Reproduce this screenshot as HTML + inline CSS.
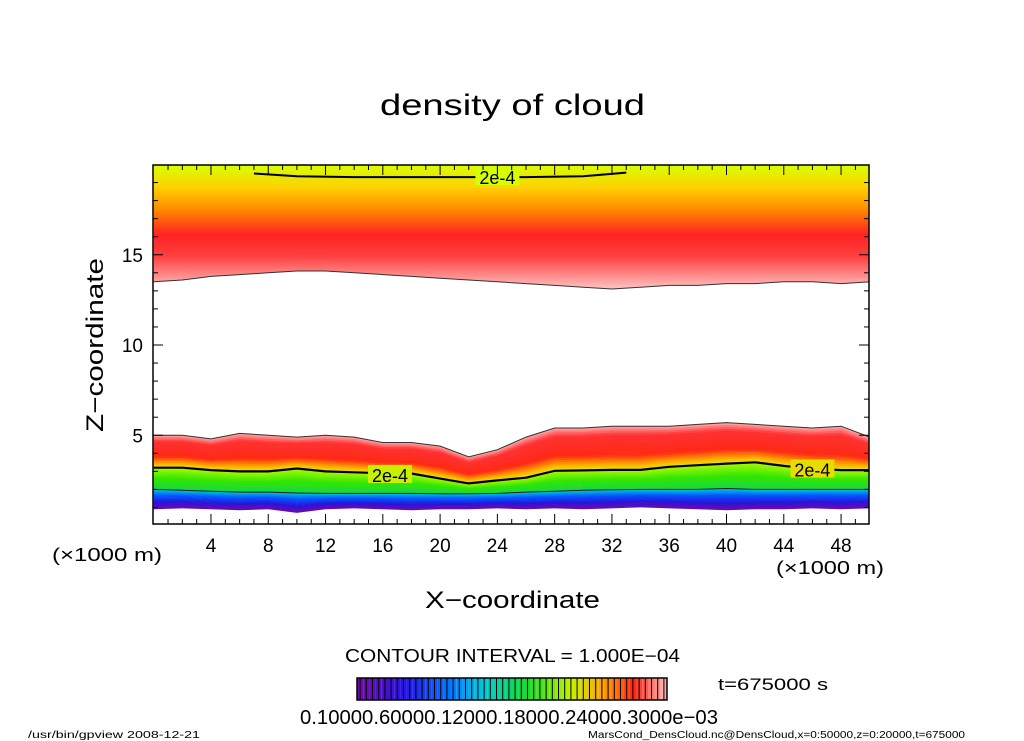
<!DOCTYPE html>
<html><head><meta charset="utf-8"><style>
html,body{margin:0;padding:0;background:#fff;}
svg{display:block;font-family:"Liberation Sans",sans-serif;}
</style></head><body>
<svg id="chart" width="1024" height="741" viewBox="0 0 1024 741">
<defs>
<linearGradient id="upperGrad" x1="0" y1="165" x2="0" y2="292" gradientUnits="userSpaceOnUse">
<stop offset="0" stop-color="#d8ff00"/>
<stop offset="0.18" stop-color="#ffd000"/>
<stop offset="0.35" stop-color="#ff8a00"/>
<stop offset="0.55" stop-color="#ff2222"/>
<stop offset="0.72" stop-color="#ff4040"/>
<stop offset="0.88" stop-color="#ff9090"/>
<stop offset="1" stop-color="#ffd0d0"/>
</linearGradient>
<clipPath id="plotClip"><rect x="153" y="165" width="716" height="359"/></clipPath>
</defs>
<text x="380" y="115" font-size="30" textLength="265" lengthAdjust="spacingAndGlyphs">density of cloud</text>
<g id="plot" clip-path="url(#plotClip)"></g>
<rect x="153" y="165" width="716" height="359" fill="none" stroke="#000" stroke-width="1.5"/>
<g id="axes"></g>
<text x="103" y="432" font-size="24" textLength="174" lengthAdjust="spacingAndGlyphs" transform="rotate(-90 103 432)">Z−coordinate</text>
<text x="425" y="608" font-size="24" textLength="175" lengthAdjust="spacingAndGlyphs">X−coordinate</text>
<text x="52" y="561" font-size="18" textLength="110" lengthAdjust="spacingAndGlyphs">(×1000 m)</text>
<text x="776" y="574" font-size="18" textLength="108" lengthAdjust="spacingAndGlyphs">(×1000 m)</text>
<text x="345" y="662" font-size="18" textLength="335" lengthAdjust="spacingAndGlyphs">CONTOUR INTERVAL = 1.000E−04</text>
<g id="colorbar"></g>
<rect x="357" y="678" width="310" height="22" fill="none" stroke="#000" stroke-width="1.5"/>
<text x="300" y="724" font-size="20" textLength="418" lengthAdjust="spacingAndGlyphs">0.10000.60000.12000.18000.24000.3000e−03</text>
<text x="718" y="690" font-size="17" textLength="110" lengthAdjust="spacingAndGlyphs">t=675000 s</text>
<text x="28" y="738" font-size="10" textLength="172" lengthAdjust="spacingAndGlyphs">/usr/bin/gpview   2008-12-21</text>
<text x="588" y="738" font-size="10" textLength="377" lengthAdjust="spacingAndGlyphs">MarsCond_DensCloud.nc@DensCloud,x=0:50000,z=0:20000,t=675000</text>
</svg>
<script>
const xs = [0,2,4,6,8,10,12,14,16,18,20,22,24,26,28,30,32,34,36,38,40,42,44,46,48,50];
const cloudTop = [5.0,5.0,4.8,5.1,5.0,4.9,5.0,4.9,4.6,4.6,4.4,3.8,4.2,4.9,5.4,5.4,5.5,5.5,5.5,5.6,5.7,5.6,5.5,5.4,5.5,4.9];
const contour2e4 = [3.2,3.2,3.07,3.0,3.0,3.16,3.0,2.95,2.9,2.88,2.6,2.33,2.5,2.65,3.03,3.05,3.08,3.08,3.25,3.34,3.43,3.5,3.3,3.15,3.07,3.07];
const contour1e4 = [2.0,1.95,1.9,1.85,1.85,1.8,1.78,1.78,1.78,1.78,1.76,1.76,1.78,1.85,1.9,1.95,1.98,2.0,2.0,2.0,2.05,2.0,2.0,2.0,2.0,2.0];
const cloudBottom = [0.9,0.95,0.9,0.85,0.9,0.7,0.9,0.95,0.9,0.85,0.9,0.9,0.95,0.9,0.95,0.9,0.95,1.0,0.95,0.9,0.85,0.9,0.9,0.95,0.9,0.95];
const upperBase = [13.5,13.6,13.8,13.9,14.0,14.1,14.1,14.0,13.9,13.8,13.7,13.6,13.5,13.4,13.3,13.2,13.1,13.2,13.3,13.3,13.4,13.4,13.5,13.5,13.4,13.5];
const upper2e4X = [7,10,14,18,22,26,30,33];
const upper2e4Z = [19.5,19.35,19.3,19.3,19.3,19.3,19.35,19.55];
const xTicks = [4,8,12,16,20,24,28,32,36,40,44,48];
const zTicks = [5,10,15];
const cbColors = 50;

const NS='http://www.w3.org/2000/svg';
const X = x => 153.7 + 14.32*x;
const Z = z => 525.5 - 18.05*z;
function mk(tag, attrs, parent){const e=document.createElementNS(NS,tag);for(const k in attrs)e.setAttribute(k,attrs[k]);parent.appendChild(e);return e;}
function lerpC(stops,f){f=Math.max(0,Math.min(1,f));for(let i=1;i<stops.length;i++){if(f<=stops[i][0]){const a=stops[i-1],b=stops[i];const t=(f-a[0])/(b[0]-a[0]||1);const c=[0,1,2].map(j=>Math.round(a[1][j]+(b[1][j]-a[1][j])*t));return `rgb(${c})`;}}const l=stops[stops.length-1][1];return `rgb(${l})`;}
const bottomStops=[[0,[110,10,170]],[0.35,[40,20,220]],[0.7,[0,90,255]],[1,[0,200,220]]];
const midStops=[[0,[20,215,70]],[0.5,[50,230,0]],[1,[170,250,0]]];
const highStops=[[0,[235,235,0]],[0.15,[255,160,0]],[0.35,[255,40,20]],[0.8,[255,50,50]],[1,[255,170,170]]];
const plot=document.getElementById('plot');
const pl=(arr)=>xs.map((x,i)=>`${X(x).toFixed(1)},${Z(arr[i]).toFixed(1)}`);

const up=mk('polygon',{points:`${X(0)},${Z(20.5)} ${X(50)},${Z(20.5)} `+pl(upperBase).reverse().join(' '),fill:'url(#upperGrad)'},plot);


const upl=mk('polyline',{points:pl(upperBase).join(' '),fill:'none',stroke:'#333','stroke-width':1},plot);



const N=20;
function band(lo,hi,stops,name){
  for(let k=0;k<N;k++){
    const f0=k/N,f1=(k+1)/N;
    const a=xs.map((x,i)=>`${X(x).toFixed(1)},${Z(lo[i]+(hi[i]-lo[i])*f0).toFixed(1)}`);
    const b=xs.map((x,i)=>`${X(x).toFixed(1)},${Z(lo[i]+(hi[i]-lo[i])*f1+0.02).toFixed(1)}`).reverse();
    const p=mk('polygon',{points:a.concat(b).join(' '),fill:lerpC(stops,(f0+f1)/2)},plot);
    
    
  }
}
band(cloudBottom,contour1e4,bottomStops,'lower-cloud-band');
band(contour1e4,contour2e4,midStops,'middle-cloud-band');
band(contour2e4,cloudTop,highStops,'upper-part-band');
const lines=[[cloudTop,1,'#333','cloud-top-edge'],[contour2e4,2.2,'#000','contour-2e-4'],[contour1e4,1,'#222','contour-1e-4']];
lines.forEach(([arr,w,c,n])=>{const l=mk('polyline',{points:pl(arr).join(' '),fill:'none',stroke:c,'stroke-width':w},plot);

});
const u2=mk('polyline',{points:upper2e4X.map((x,i)=>`${X(x)},${Z(upper2e4Z[i])}`).join(' '),fill:'none',stroke:'#000','stroke-width':2},plot);


[[24,19.3,[214,255,0]],[16.5,2.8,[200,240,0]],[46,3.1,[230,220,0]]].forEach(([x,z,c])=>{
  const r=mk('rect',{x:X(x)-22,y:Z(z)-10,width:44,height:18,fill:`rgb(${c})`},plot);
  
  
  const t=mk('text',{x:X(x),y:Z(z)+7,'font-size':18,'text-anchor':'middle'},plot);t.textContent='2e-4';
  
  
});

const axes=document.getElementById('axes');
for(let x=1;x<50;x++){const major=x%4===0;
  const t1=mk('line',{x1:X(x),x2:X(x),y1:524,y2:524-(major?10:5),stroke:'#000'},axes);
  
  
  const t2=mk('line',{x1:X(x),x2:X(x),y1:165,y2:165+(major?10:5),stroke:'#000'},axes);
  
  }
xTicks.forEach(x=>{const t=mk('text',{x:X(x),y:552,'font-size':19,'text-anchor':'middle'},axes);t.textContent=x;
  
  });
for(let z=1;z<20;z++){const major=z%5===0;
  const t1=mk('line',{x1:153,x2:153+(major?10:5),y1:Z(z),y2:Z(z),stroke:'#000'},axes);
  
  
  const t2=mk('line',{x1:869,x2:869-(major?10:5),y1:Z(z),y2:Z(z),stroke:'#000'},axes);
  
  }
zTicks.forEach(z=>{const t=mk('text',{x:143,y:Z(z)+7,'font-size':19,'text-anchor':'end'},axes);t.textContent=z;
  
  });

const cb=document.getElementById('colorbar');
const allStops=[[0,[110,10,170]],[0.15,[40,20,230]],[0.3,[0,120,255]],[0.4,[0,200,220]],[0.55,[20,220,40]],[0.7,[200,240,0]],[0.8,[255,160,0]],[0.9,[255,40,20]],[1,[255,170,170]]];
for(let i=0;i<cbColors;i++){const w=310/cbColors;
  const r=mk('rect',{x:357+i*w,y:678,width:w,height:22,fill:lerpC(allStops,i/(cbColors-1))},cb);
  
  
  const l=mk('line',{x1:357+i*w+w*0.5,x2:357+i*w+w*0.5,y1:678,y2:700,stroke:'#000','stroke-width':1},cb);
  
  }
</script>
</body></html>
